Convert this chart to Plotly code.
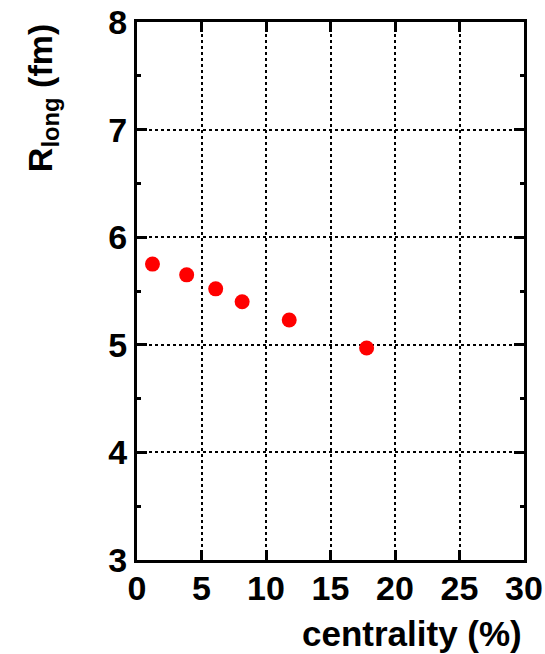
import plotly.graph_objects as go

centrality = [1.2, 3.85, 6.1, 8.15, 11.8, 17.8]
r_long = [5.75, 5.65, 5.52, 5.40, 5.23, 4.97]
x_ticks = [0, 5, 10, 15, 20, 25, 30]
y_ticks = [3, 4, 5, 6, 7, 8]

fig = go.Figure()
fig.add_trace(go.Scatter(
    x=centrality, y=r_long, mode="markers",
    marker=dict(color="#ff0000", size=15, line=dict(width=0)),
    showlegend=False,
))

font = "Liberation Sans, Arial, sans-serif"
fig.update_layout(
    width=545, height=654,
    margin=dict(l=137, r=21, t=22, b=94, autoexpand=False),
    paper_bgcolor="white", plot_bgcolor="white",
    font=dict(family=font, color="black"),
    xaxis=dict(
        range=[0, 30], tickvals=x_ticks, ticktext=[str(v) for v in x_ticks],
        ticks="inside", ticklen=10, tickwidth=3, tickcolor="black",
        showline=True, linewidth=3, linecolor="black", mirror="allticks",
        showgrid=True, gridcolor="black", gridwidth=1.5, griddash="dot",
        zeroline=False, automargin=False, ticklabelstandoff=-4,
        ticklabeloverflow="allow",
        tickfont=dict(family=font, size=34, color="black", weight="bold"),
    ),
    yaxis=dict(
        range=[3, 8], tickvals=y_ticks, ticktext=[str(v) for v in y_ticks],
        ticks="inside", ticklen=10, tickwidth=3, tickcolor="black",
        showline=True, linewidth=3, linecolor="black", mirror="allticks",
        showgrid=True, gridcolor="black", gridwidth=1.5, griddash="dot",
        zeroline=False, automargin=False, ticklabeloverflow="allow",
        minor=dict(dtick=0.5, ticks="inside", ticklen=4, tickwidth=3,
                   tickcolor="black", showgrid=False),
        tickfont=dict(family=font, size=34, color="black", weight="bold"),
    ),
    annotations=[
        dict(text="<b>R<sub>long</sub> (fm)</b>", xref="paper", yref="paper",
             x=-0.245, y=1.0, xanchor="center", yanchor="top", textangle=-90,
             showarrow=False, font=dict(family=font, size=34, color="black")),
        dict(text="<b>centrality (%)</b>", xref="paper", yref="paper",
             x=1.0, y=-0.136, xanchor="right", yanchor="middle",
             showarrow=False, font=dict(family=font, size=35, color="black")),
    ],
)

fig.write_html(
    "out.html",
    config={"displayModeBar": False},
    post_script="document.body.style.margin='0';document.body.style.overflow='hidden';",
)
